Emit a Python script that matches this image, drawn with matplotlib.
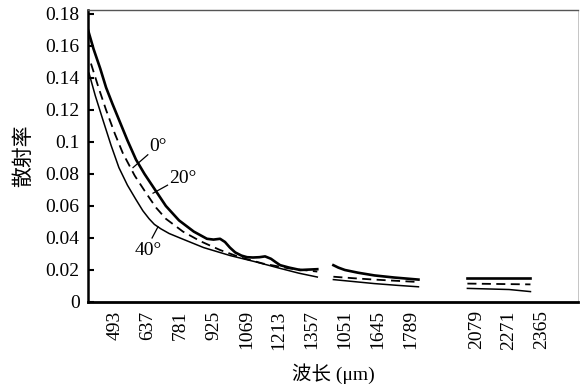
import matplotlib
matplotlib.use("Agg")
import matplotlib.pyplot as plt

plt.rcParams['font.family'] = ['Liberation Serif', 'Noto Sans CJK SC']

# tick labels along the x axis (the scan uses an evenly spaced, broken axis)
tick_labels = ['493', '637', '781', '925', '1069', '1213', '1357',
               '1051', '1645', '1789', '2079', '2271', '2365']
tick_pos = [0, 1, 2, 3, 4, 5, 6, 7, 8, 9, 11, 12, 13]

# 0 deg, solid thick - three separate pieces
x0_a = [-0.82, -0.65, -0.45, -0.27, -0.08, 0.12, 0.38, 0.64, 0.9, 1.16, 1.55, 1.95, 2.4, 2.8,
        3.0, 3.2, 3.35, 3.5, 3.66, 3.85, 4.02, 4.2, 4.4, 4.57, 4.75, 4.9, 5.03, 5.3, 5.64, 6.16]
y0_a = [0.170, 0.158, 0.146, 0.134, 0.124, 0.114, 0.101, 0.089, 0.080, 0.072, 0.060, 0.051, 0.044, 0.0395,
        0.039, 0.0395, 0.0375, 0.034, 0.031, 0.029, 0.028, 0.0278, 0.028, 0.0285, 0.027, 0.0248, 0.023, 0.0215, 0.020, 0.0205]
x0_b = [6.65, 6.8, 7.0, 7.4, 7.9, 8.5, 9.24]
y0_b = [0.023, 0.0215, 0.020, 0.0183, 0.0166, 0.0153, 0.014]
x0_c = [10.73, 12.65]
y0_c = [0.015, 0.015]

# 20 deg, dashed
x20_a = [-0.73, -0.5, -0.27, 0.0, 0.24, 0.6, 0.95, 1.25, 1.55, 2.07, 2.6, 3.2, 3.8, 4.51, 5.3, 6.16]
y20_a = [0.149, 0.134, 0.120, 0.105, 0.093, 0.079, 0.068, 0.059, 0.052, 0.044, 0.038, 0.0325, 0.028, 0.024, 0.021, 0.019]
x20_b = [6.65, 7.3, 7.9, 8.6, 9.24]
y20_b = [0.0158, 0.0148, 0.014, 0.0132, 0.0125]
x20_c = [10.73, 12.65]
y20_c = [0.0115, 0.011]

# 40 deg, solid thin
x40_a = [-0.79, -0.6, -0.37, -0.12, 0.12, 0.38, 0.64, 0.85, 1.04, 1.2, 1.4, 1.65, 1.98, 2.7, 3.51, 4.3, 5.03, 5.6, 6.16]
y40_a = [0.143, 0.129, 0.114, 0.098, 0.084, 0.073, 0.064, 0.057, 0.052, 0.0485, 0.0457, 0.0428, 0.040, 0.034, 0.029, 0.025, 0.021, 0.018, 0.0156]
x40_b = [6.65, 7.3, 7.9, 8.6, 9.24]
y40_b = [0.014, 0.0127, 0.0115, 0.0104, 0.0095]
x40_c = [10.73, 12.0, 12.65]
y40_c = [0.0085, 0.0078, 0.0065]

fig = plt.figure(figsize=(5.81, 3.92), dpi=100)
ax = fig.add_axes([0.1515, 0.2296, 0.8435, 0.745])

for xs, ys in [(x0_a, y0_a), (x0_b, y0_b), (x0_c, y0_c)]:
    ax.plot(xs, ys, color='black', lw=1.9, solid_joinstyle='round')
for xs, ys in [(x20_a, y20_a), (x20_b, y20_b), (x20_c, y20_c)]:
    ax.plot(xs, ys, color='black', lw=1.3, ls=(0, (5, 3)))
for xs, ys in [(x40_a, y40_a), (x40_b, y40_b), (x40_c, y40_c)]:
    ax.plot(xs, ys, color='black', lw=1.1, solid_joinstyle='round')

# curve labels with leader lines
ax.plot([0.55, 1.0], [0.084, 0.092], color='black', lw=0.9)
ax.text(1.05, 0.097, '0°', fontsize=14, va='center', ha='left')
ax.plot([1.16, 1.6], [0.068, 0.073], color='black', lw=0.9)
ax.text(1.65, 0.077, '20°', fontsize=14, va='center', ha='left')
ax.plot([1.13, 1.31], [0.040, 0.047], color='black', lw=0.9)
ax.text(1.0, 0.032, '40°', fontsize=14, va='center', ha='center')

ax.set_xlim(-0.82, 14.1)
ax.set_ylim(0, 0.1825)
ax.set_xticks(tick_pos)
ax.set_xticklabels(tick_labels, rotation=90, fontsize=14)
ax.tick_params(axis='x', length=0, pad=6)
ax.set_yticks([0, 0.02, 0.04, 0.06, 0.08, 0.1, 0.12, 0.14, 0.16, 0.18])
ax.set_yticklabels(['0', '0.02', '0.04', '0.06', '0.08', '0.1', '0.12', '0.14', '0.16', '0.18'], fontsize=14)
ax.tick_params(axis='y', direction='in', length=4, width=1.5, pad=6)

ax.spines['left'].set_linewidth(1.8)
ax.spines['bottom'].set_linewidth(2.0)
ax.spines['top'].set_linewidth(1.0)
ax.spines['top'].set_color('#555555')
ax.spines['right'].set_linewidth(0.6)
ax.spines['right'].set_color('#bbbbbb')

ax.set_ylabel('散射率', fontsize=15, labelpad=8)
ax.set_xlabel('波长 (μm)', fontsize=14, labelpad=10)

fig.savefig('out.png', dpi=100)
